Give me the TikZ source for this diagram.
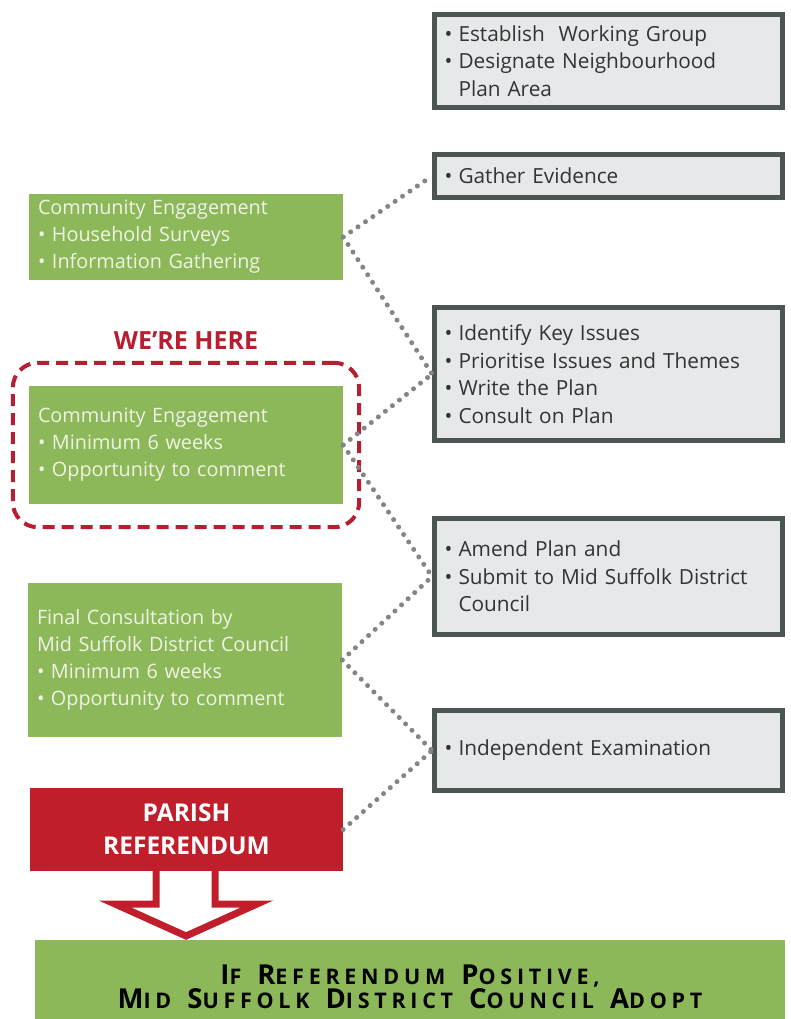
\documentclass[tikz,border=0pt]{standalone}
\usepackage{fontspec}
\setmainfont{Open Sans}
\newfontfamily\spacedfont[LetterSpace=22]{Open Sans}
\usetikzlibrary{fit}
\definecolor{boxgreen}{HTML}{8CB85A}
\definecolor{boxred}{HTML}{C11E2C}
\definecolor{herered}{HTML}{B51F30}
\definecolor{boxgray}{HTML}{E6E8EA}
\definecolor{edgegray}{HTML}{4B5551}
\definecolor{dotgray}{HTML}{858585}
\definecolor{greentext}{HTML}{EEF4E4}
\newcommand{\bul}{\makebox[14pt][l]{\textbullet}}
\newcommand{\hang}{\hspace*{14pt}}
\newcommand{\capsc}[2]{{\fontsize{27.5}{28}\selectfont #1}{\fontsize{21.5}{28}\selectfont #2}}
\begin{document}
\begin{tikzpicture}[
	x=1pt,y=-1pt,
	stage/.style={draw=edgegray,line width=5pt,fill=boxgray,text=black!80,
		text width=328pt,inner xsep=10pt,inner ysep=0pt,align=left,
		font=\fontsize{20.8}{27.5}\selectfont},
	community/.style={fill=boxgreen,text=greentext,text width=296pt,
		inner xsep=9pt,inner ysep=0pt,align=left,
		font=\fontsize{19.8}{27}\selectfont},
	link/.style={dotgray,line width=5pt,line cap=round,dash pattern=on 0pt off 9pt},
	]
\useasboundingbox (0,0) rectangle (790,1019);
% stages on the right
\node [stage,minimum height=93pt] (setup) at (608.5,61)
  {\bul Establish\ \ Working Group\\\bul Designate Neighbourhood\\\hang Plan Area};
\node [stage,minimum height=43pt] (evidence) at (608.5,176) {\bul Gather Evidence};
\node [stage,minimum height=133pt] (plan) at (608.5,374)
  {\bul Identify Key Issues\\\bul Prioritise Issues and Themes\\\bul Write the Plan\\\bul Consult on Plan};
\node [stage,minimum height=116pt] (submit) at (608.5,576.5)
  {\bul Amend Plan and\\\bul Submit to Mid Suffolk District\\\hang Council};
\node [stage,minimum height=80pt] (exam) at (608.5,750.5) {\bul Independent Examination};
% engagement on the left
\node [community,minimum height=86pt] (survey) at (186,237)
  {Community Engagement\\\bul Household Surveys\\\bul Information Gathering};
\node [community,minimum height=118pt] (comment) at (186,445)
  {Community Engagement\\\bul Minimum 6 weeks\\\bul Opportunity to comment};
\node [community,minimum height=154pt] (final) at (185,660)
  {Final Consultation by\\Mid Suffolk District Council\\\bul Minimum 6 weeks\\\bul Opportunity to comment};
\node [draw=herered,line width=4pt,dash pattern=on 12pt off 7pt,rounded corners=25pt,
  fit=(comment),inner xsep=16pt,inner ysep=23pt] (here) {};
\node [text=herered,font=\fontsize{25}{25}\selectfont\bfseries] (herelabel) at (186,341) {WE’RE HERE};
\node [fill=boxred,text=white,minimum width=313pt,minimum height=83pt,align=center,
  font=\fontsize{24.5}{33}\selectfont\bfseries] (referendum) at (186.5,829.5) {PARISH\\REFERENDUM};
% hollow arrow down
\coordinate (tip) at (186,936);
\draw [boxred,line width=7pt,fill=white,line join=miter]
  (156,871) -- (156,904) -- (115,904) -- (tip) -- (257,904) -- (215,904) -- (215,871);
\node [fill=boxgreen,minimum width=750pt,minimum height=94pt,align=center,
  font=\spacedfont\bfseries] (adopt) at (410,987)
  {\capsc{I}{F}\hspace{16pt}\capsc{R}{EFERENDUM}\hspace{16pt}\capsc{P}{OSITIVE,}\\
   \capsc{M}{ID}\hspace{16pt}\capsc{S}{UFFOLK}\hspace{16pt}\capsc{D}{ISTRICT}\hspace{16pt}\capsc{C}{OUNCIL}\hspace{16pt}\capsc{A}{DOPT}};
% dotted links
\draw [link] (survey.east) -- (evidence.west);
\draw [link] (survey.east) -- (plan.west);
\draw [link] (comment.east) -- (plan.west);
\draw [link] (comment.east) -- (submit.west);
\draw [link] (final.east) -- (submit.west);
\draw [link] (final.east) -- (exam.west);
\draw [link] (referendum.east) -- (exam.west);
\end{tikzpicture}
\end{document}
